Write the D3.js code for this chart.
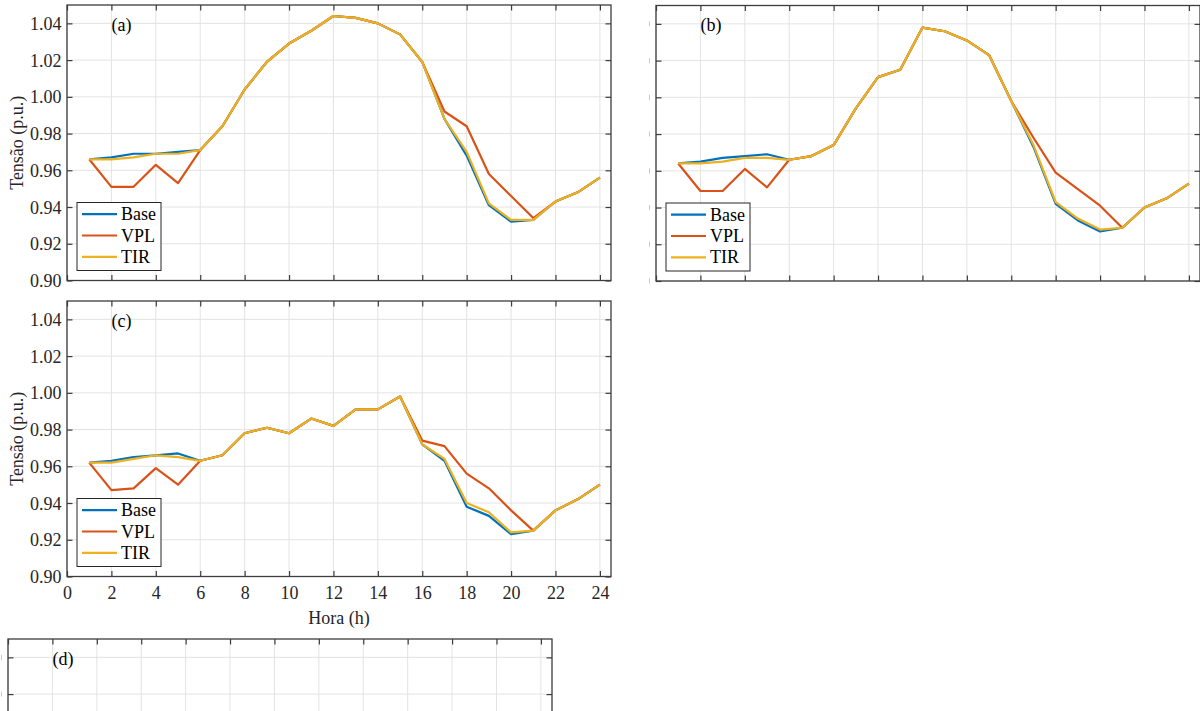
<!DOCTYPE html>
<html>
<head>
<meta charset="utf-8">
<script src="https://cdn.jsdelivr.net/npm/d3@7/dist/d3.min.js"></script>
<style>
  html, body { margin: 0; padding: 0; background: #fff; }
  svg { display: block; font-family: "Liberation Serif", "Times New Roman", serif; }
</style>
</head>
<body>
<svg id="chart" width="1200" height="711"></svg>
<script>
// ---- data ----
const hours = [1,2,3,4,5,6,7,8,9,10,11,12,13,14,15,16,17,18,19,20,21,22,23,24];
const seriesNames = ["Base", "VPL", "TIR"];
const xTicks = [0,2,4,6,8,10,12,14,16,18,20,22,24];
const yTicks = [0.90,0.92,0.94,0.96,0.98,1.00,1.02,1.04];
const panelLabels = ["(a)", "(b)", "(c)", "(d)"];

const aBase = [0.966,0.967,0.969,0.969,0.970,0.971,0.984,1.004,1.019,1.029,1.036,1.044,1.043,1.040,1.034,1.019,0.988,0.968,0.941,0.932,0.933,0.943,0.948,0.956];
const aVPL  = [0.966,0.951,0.951,0.963,0.953,0.971,0.984,1.004,1.019,1.029,1.036,1.044,1.043,1.040,1.034,1.019,0.992,0.984,0.958,0.946,0.934,0.943,0.948,0.956];
const aTIR  = [0.966,0.966,0.967,0.969,0.969,0.971,0.984,1.004,1.019,1.029,1.036,1.044,1.043,1.040,1.034,1.019,0.988,0.970,0.942,0.933,0.933,0.943,0.948,0.956];

const bBase = [0.964,0.965,0.967,0.968,0.969,0.966,0.968,0.974,0.994,1.011,1.015,1.038,1.036,1.031,1.023,0.998,0.973,0.942,0.933,0.927,0.929,0.940,0.945,0.953];
const bVPL  = [0.964,0.949,0.949,0.961,0.951,0.966,0.968,0.974,0.994,1.011,1.015,1.038,1.036,1.031,1.023,0.998,0.978,0.959,0.950,0.941,0.929,0.940,0.945,0.953];
const bTIR  = [0.964,0.964,0.965,0.967,0.967,0.966,0.968,0.974,0.994,1.011,1.015,1.038,1.036,1.031,1.023,0.998,0.974,0.943,0.934,0.928,0.929,0.940,0.945,0.953];

const cBase = [0.962,0.963,0.965,0.966,0.967,0.963,0.966,0.978,0.981,0.978,0.986,0.982,0.991,0.991,0.998,0.972,0.963,0.938,0.933,0.923,0.925,0.936,0.942,0.950];
const cVPL  = [0.962,0.947,0.948,0.959,0.950,0.963,0.966,0.978,0.981,0.978,0.986,0.982,0.991,0.991,0.998,0.974,0.971,0.956,0.948,0.936,0.925,0.936,0.942,0.950];
const cTIR  = [0.962,0.962,0.964,0.966,0.965,0.963,0.966,0.978,0.981,0.978,0.986,0.982,0.991,0.991,0.998,0.972,0.964,0.940,0.935,0.924,0.925,0.936,0.942,0.950];

// ---- styles ----
const colors = {Base: "#0072BD", VPL: "#D95319", TIR: "#EDB120"};
const W = 544, H = 275.5;
const FONT = 18;
const axisColor = "#3c3c3c";
const gridColor = "#e3e3e3";

// labelMode: "full" = tick labels shown; "cut" = panel cropped, only label edges remain
const panels = [
  {label: panelLabels[0], left: 67,  top: 5,   data: {Base: aBase, VPL: aVPL, TIR: aTIR}, labelMode: "full", xLabels: false, legend: true},
  {label: panelLabels[1], left: 656, top: 5.5, data: {Base: bBase, VPL: bVPL, TIR: bTIR}, labelMode: "cut",  xLabels: false, legend: true},
  {label: panelLabels[2], left: 67,  top: 301, data: {Base: cBase, VPL: cVPL, TIR: cTIR}, labelMode: "full", xLabels: true,  legend: true},
  {label: panelLabels[3], left: 8,   top: 639, data: null,                                 labelMode: "cut",  xLabels: false, legend: false}
];

const svg = d3.select("#chart");
const defs = svg.append("defs");

panels.forEach((p, i) => {
  const x = d3.scaleLinear().domain([0, 24.5]).range([0, W]);
  const y = d3.scaleLinear().domain([0.90, 1.05]).range([H, 0]);

  const g = svg.append("g").attr("transform", `translate(${p.left},${p.top})`);

  const pid = "plot" + i;
  defs.append("clipPath").attr("id", pid).append("rect")
    .attr("x", 0).attr("y", 0).attr("width", W).attr("height", H);

  // grid
  g.append("g").selectAll("line").data(xTicks).join("line")
    .attr("x1", d => x(d)).attr("x2", d => x(d)).attr("y1", 0).attr("y2", H)
    .attr("stroke", gridColor).attr("stroke-width", 1);
  g.append("g").selectAll("line").data(yTicks).join("line")
    .attr("y1", d => y(d)).attr("y2", d => y(d)).attr("x1", 0).attr("x2", W)
    .attr("stroke", gridColor).attr("stroke-width", 1);

  // lines
  if (p.data) {
    const line = d3.line().x((d, j) => x(hours[j])).y(d => y(d));
    const lg = g.append("g").attr("clip-path", `url(#${pid})`);
    seriesNames.forEach(s => {
      lg.append("path").datum(p.data[s])
        .attr("d", line).attr("fill", "none")
        .attr("stroke", colors[s]).attr("stroke-width", 2.2)
        .attr("stroke-linejoin", "round");
    });
  }

  // axes (inside ticks, all four sides)
  const tk = 5.5;
  const full = p.labelMode === "full";
  const axL = g.append("g").call(d3.axisLeft(y).tickValues(yTicks).tickSizeInner(-tk).tickSizeOuter(0).tickFormat(full ? d3.format(".2f") : ""));
  const axR = g.append("g").attr("transform", `translate(${W},0)`).call(d3.axisRight(y).tickValues(yTicks).tickSizeInner(-tk).tickSizeOuter(0).tickFormat(""));
  const axT = g.append("g").call(d3.axisTop(x).tickValues(xTicks).tickSizeInner(-tk).tickSizeOuter(0).tickFormat(""));
  const axB = g.append("g").attr("transform", `translate(0,${H})`).call(d3.axisBottom(x).tickValues(xTicks).tickSizeInner(-tk).tickSizeOuter(0).tickFormat(p.xLabels ? d3.format("d") : ""));
  [axL, axR, axT, axB].forEach(a => {
    a.select(".domain").remove();
    a.selectAll(".tick line").attr("stroke", axisColor).attr("stroke-width", 1.2);
    a.selectAll(".tick text").attr("fill", "#262626").style("font-size", FONT + "px")
      .style("font-family", "'Liberation Serif', 'Times New Roman', serif");
  });
  axL.selectAll(".tick text").attr("x", -5.5).attr("dy", "0.34em");
  axB.selectAll(".tick text").attr("y", 10).attr("dy", "0.71em");

  // cropped panels: only the right edge of each tick label survives as a faint sliver
  if (!full) {
    g.append("g").selectAll("rect").data(yTicks).join("rect")
      .attr("x", -7).attr("y", d => y(d) - 2.5).attr("width", 1).attr("height", 5)
      .attr("fill", "#c8c8c8");
  }

  // box
  g.append("rect").attr("x", 0).attr("y", 0).attr("width", W).attr("height", H)
    .attr("fill", "none").attr("stroke", axisColor).attr("stroke-width", 1.3);

  // titles
  if (p.xLabels) {
    g.append("text").attr("x", W / 2).attr("y", H + 47)
      .attr("text-anchor", "middle").attr("fill", "#262626")
      .style("font-size", FONT + "px").text("Hora (h)");
  }
  if (full) {
    g.append("text")
      .attr("transform", `translate(${-44},${H / 2}) rotate(-90)`)
      .attr("text-anchor", "middle").attr("fill", "#262626")
      .style("font-size", FONT + "px").text("Tensão (p.u.)");
  }

  // panel label
  g.append("text").attr("x", x(2)).attr("y", y(1.04) + 7.5)
    .attr("fill", "#000").style("font-size", FONT + "px").text(p.label);

  // legend
  if (p.legend) {
    const bw = 84, bh = 68;
    const lgd = g.append("g").attr("transform", `translate(10,${H - 10 - bh})`);
    lgd.append("rect").attr("width", bw).attr("height", bh)
      .attr("fill", "#fff").attr("stroke", "#262626").attr("stroke-width", 1);
    seriesNames.forEach((s, k) => {
      const yy = 11.7 + k * 21.3;
      lgd.append("line").attr("x1", 5).attr("x2", 40).attr("y1", yy).attr("y2", yy)
        .attr("stroke", colors[s]).attr("stroke-width", 2.2);
      lgd.append("text").attr("x", 44).attr("y", yy + 6).attr("fill", "#000")
        .style("font-size", FONT + "px").text(s);
    });
  }
});
</script>
</body>
</html>
